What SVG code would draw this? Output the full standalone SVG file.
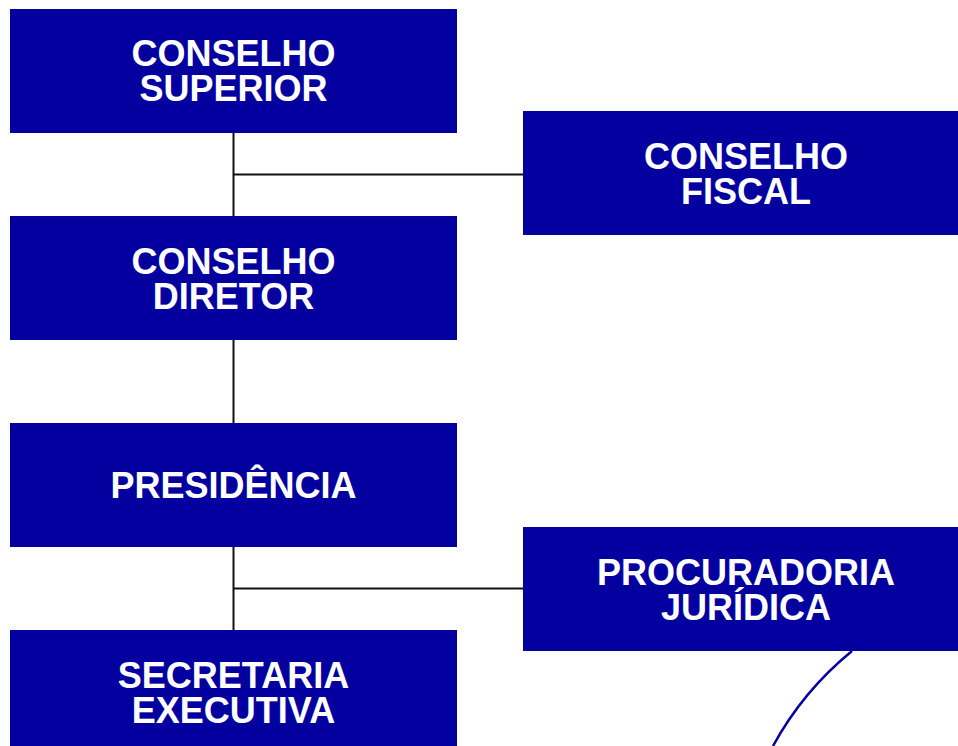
<svg xmlns="http://www.w3.org/2000/svg" width="958" height="746" viewBox="0 0 958 746">
<style>
.box{fill:#0400a0}
.lbl{font-family:"Liberation Sans",Arial,sans-serif;font-weight:bold;font-size:36px;fill:#fff;text-anchor:middle}
.ln{stroke:#111;stroke-width:2;fill:none}
</style>
<rect width="958" height="746" fill="#fff"/>
<g id="connectors">
<line class="ln" x1="233.5" y1="133" x2="233.5" y2="216"/>
<line class="ln" x1="233.5" y1="174.5" x2="523" y2="174.5"/>
<line class="ln" x1="233.5" y1="340" x2="233.5" y2="423"/>
<line class="ln" x1="233.5" y1="547" x2="233.5" y2="630"/>
<line class="ln" x1="233.5" y1="588.5" x2="523" y2="588.5"/>
<path d="M852,651 Q803,691 773,746" stroke="#0400a0" stroke-width="2.5" fill="none"/>
</g>
<g id="conselho-superior"><rect class="box" x="10" y="9" width="447" height="124"/><text class="lbl" x="233.5" y="66">CONSELHO</text><text class="lbl" x="233.5" y="101">SUPERIOR</text></g>
<g id="conselho-fiscal"><rect class="box" x="523" y="111" width="435" height="124"/><text class="lbl" x="746" y="169">CONSELHO</text><text class="lbl" x="746" y="204">FISCAL</text></g>
<g id="conselho-diretor"><rect class="box" x="10" y="216" width="447" height="124"/><text class="lbl" x="233.5" y="274">CONSELHO</text><text class="lbl" x="233.5" y="309">DIRETOR</text></g>
<g id="presidencia"><rect class="box" x="10" y="423" width="447" height="124"/><text class="lbl" x="233.5" y="498">PRESIDÊNCIA</text></g>
<g id="procuradoria"><rect class="box" x="523" y="527" width="435" height="124"/><text class="lbl" x="746" y="585">PROCURADORIA</text><text class="lbl" x="746" y="620">JURÍDICA</text></g>
<g id="secretaria"><rect class="box" x="10" y="630" width="447" height="124"/><text class="lbl" x="233.5" y="688">SECRETARIA</text><text class="lbl" x="233.5" y="723">EXECUTIVA</text></g>
</svg>
